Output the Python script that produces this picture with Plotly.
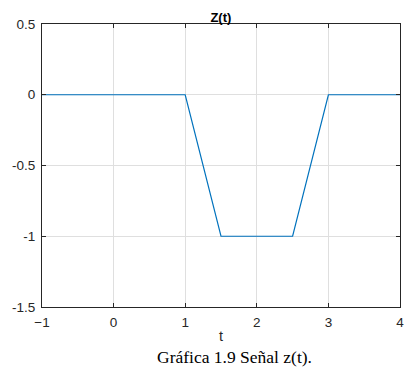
import plotly.graph_objects as go

t_vals = [-1, 1, 1.5, 2.5, 3, 4]
z_vals = [0, 0, -1, -1, 0, 0]
x_ticks = [-1, 0, 1, 2, 3, 4]
y_ticks = [-1.5, -1, -0.5, 0, 0.5]
y_tick_text = ["-1.5", "-1", "-0.5", "0", "0.5"]

fig = go.Figure()
fig.add_trace(go.Scatter(x=t_vals, y=z_vals, mode="lines",
                         line=dict(color="#0072BD", width=1.2), showlegend=False))

axis_common = dict(showline=True, linecolor="#262626", linewidth=1, mirror="ticks",
                   ticks="inside", ticklen=4, tickcolor="#262626",
                   showgrid=True, gridcolor="#DFDFDF", gridwidth=1, zeroline=False,
                   tickfont=dict(family="Liberation Sans, Arial", size=13.5, color="#262626"))

fig.update_xaxes(range=[-1, 4], tickvals=x_ticks, ticklabelstandoff=3, **axis_common,
                 title=dict(text="t", font=dict(family="Liberation Sans, Arial", size=14.5, color="#262626"), standoff=1))
fig.update_yaxes(range=[-1.5, 0.5], tickvals=y_ticks, ticktext=y_tick_text, ticklabelstandoff=3, **axis_common)

fig.update_layout(
    width=416, height=371,
    margin=dict(l=41, r=15, t=24, b=64),
    paper_bgcolor="white", plot_bgcolor="white",
    title=dict(text="<b>Z(t)</b>", x=0.531, xanchor="center", y=0.953, yanchor="middle",
               font=dict(family="Liberation Sans, Arial", size=13, color="black")),
    annotations=[dict(text="Gráfica 1.9 Señal z(t).", xref="paper", yref="paper",
                      x=0.5375, y=-0.176, xanchor="center", yanchor="middle", showarrow=False,
                      font=dict(family="Liberation Serif, DejaVu Serif", size=17.5, color="black"))],
)

fig.write_html("out.html")
